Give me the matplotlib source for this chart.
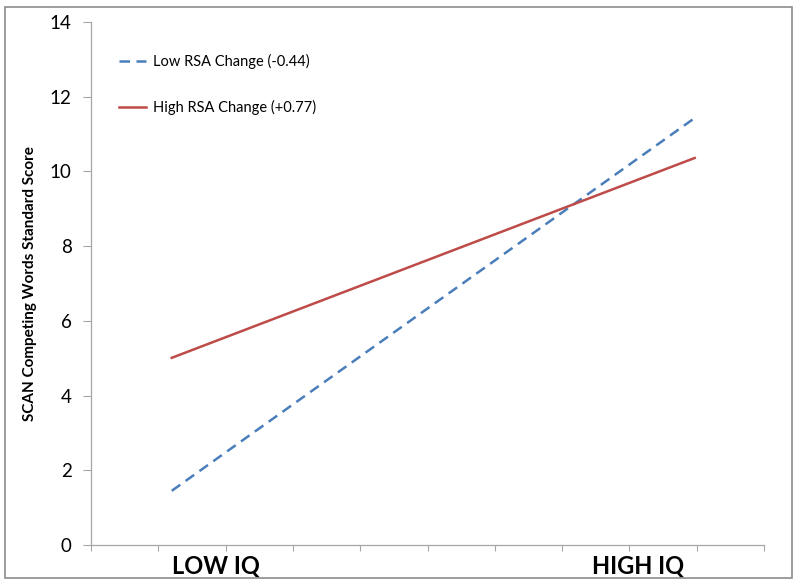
import matplotlib
matplotlib.use("Agg")
import matplotlib.pyplot as plt
from matplotlib.patches import Rectangle

# data
iq_groups = ["LOW IQ", "HIGH IQ"]
iq_pos = [1.2, 8.97]
low_rsa = [1.45, 11.43]
high_rsa = [5.01, 10.36]
series_names = ["Low RSA Change (-0.44)", "High RSA Change (+0.77)"]
label_pos = [1.2, 7.44]

plt.rcParams['font.family'] = ['Lato', 'DejaVu Sans']
grey = '#a6a6a6'

fig = plt.figure(figsize=(8, 5.87), dpi=100)
ax = fig.add_axes([0.11375, 0.0716, 0.955 - 0.11375, 0.9625 - 0.0716])

ax.plot(iq_pos, low_rsa, color='#4a7ebb', lw=1.8, dashes=(4.2, 2.6), label=series_names[0])
ax.plot(iq_pos, high_rsa, color='#be4b48', lw=1.8, label=series_names[1])

ax.set_xlim(0, 10)
ax.set_ylim(0, 14)
ax.set_yticks(range(0, 15, 2))
ax.set_xticks(range(0, 11))
ax.set_xticklabels([])
ax.tick_params(axis='y', length=6, color=grey, labelsize=13.5, pad=8)
ax.tick_params(axis='x', length=4, color=grey)
for s in ['top', 'right']:
    ax.spines[s].set_visible(False)
for s in ['left', 'bottom']:
    ax.spines[s].set_color(grey)
    ax.spines[s].set_linewidth(0.9)

for name, xp in zip(iq_groups, label_pos):
    ax.text(xp, -0.25, name, ha='left', va='top', fontsize=17, fontweight='bold')

ax.set_ylabel("SCAN Competing Words Standard Score", fontsize=11, fontweight='bold', labelpad=9)

leg = ax.legend(loc='upper left', bbox_to_anchor=(0.041, 0.938), frameon=False, fontsize=10.5,
                handlelength=1.9, handletextpad=0.45, labelspacing=2.1, borderpad=0, borderaxespad=0)

fig.patches.append(Rectangle((5 / 800, 9 / 587), 787 / 800, 571 / 587, transform=fig.transFigure,
                             fill=False, edgecolor='#8c8c8c', lw=1.2))

fig.savefig("out.png", dpi=100)
